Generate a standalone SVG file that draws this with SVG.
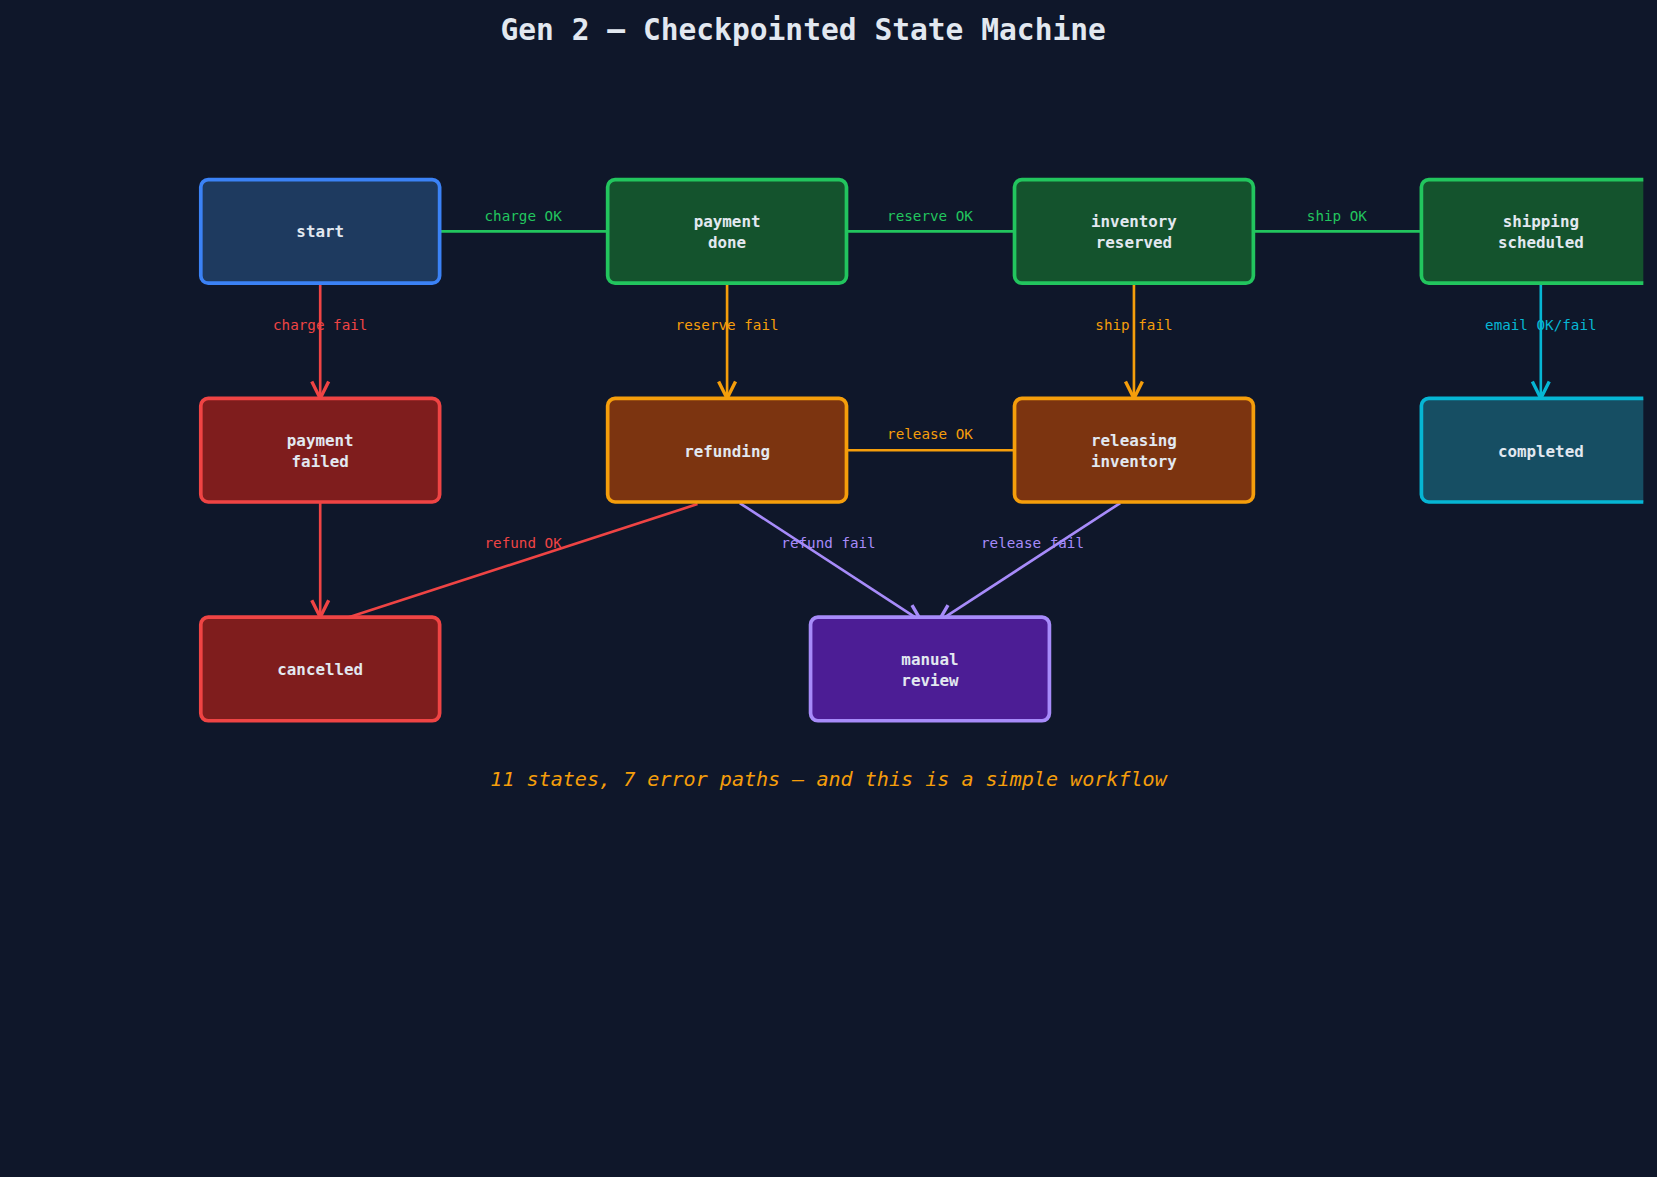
<svg xmlns="http://www.w3.org/2000/svg" width="1657" height="1177" viewBox="0 0 1657 1177">
<defs>
<clipPath id="c"><rect x="0" y="0" width="1555" height="1114"/></clipPath>
<marker id="ar" viewBox="0 0 10 10" refX="9" refY="5" markerWidth="8" markerHeight="8" orient="auto-start-reverse"><path d="M1,1 L9,5 L1,9" fill="none" stroke="context-stroke" stroke-width="1.6"/></marker>
</defs>
<style>
.n{stroke-width:3.5}
.t{font-family:"DejaVu Sans Mono",monospace;font-weight:bold;font-size:15px;fill:#e2e8f0;text-anchor:middle}
.l{font-family:"DejaVu Sans Mono",monospace;font-size:13.5px;text-anchor:middle}
.e{fill:none;stroke-width:2.5}
</style>
<rect width="1657" height="1177" fill="#0f172a"/>
<g transform="scale(1.0568)" clip-path="url(#c)">
<text x="760" y="38" font-family="DejaVu Sans Mono,monospace" font-weight="bold" font-size="28" fill="#e2e8f0" text-anchor="middle">Gen 2 — Checkpointed State Machine</text>
<g id="connectors">
<line class="e" stroke="#22c55e" x1="416" y1="219" x2="575" y2="219"/>
<line class="e" stroke="#22c55e" x1="801" y1="219" x2="960" y2="219"/>
<line class="e" stroke="#22c55e" x1="1186" y1="219" x2="1345" y2="219"/>
<line class="e" stroke="#ef4444" x1="303" y1="268" x2="303" y2="377" marker-end="url(#ar)"/>
<line class="e" stroke="#f59e0b" x1="688" y1="268" x2="688" y2="377" marker-end="url(#ar)"/>
<line class="e" stroke="#f59e0b" x1="1073" y1="268" x2="1073" y2="377" marker-end="url(#ar)"/>
<line class="e" stroke="#06b6d4" x1="1458" y1="268" x2="1458" y2="377" marker-end="url(#ar)"/>
<line class="e" stroke="#f59e0b" x1="801" y1="426" x2="960" y2="426"/>
<line class="e" stroke="#ef4444" x1="303" y1="476" x2="303" y2="584" marker-end="url(#ar)"/>
<line class="e" stroke="#ef4444" x1="660" y1="477" x2="330" y2="584"/>
<line class="e" stroke="#a78bfa" x1="700" y1="476" x2="872" y2="588" marker-end="url(#ar)"/>
<line class="e" stroke="#a78bfa" x1="1060" y1="476" x2="888" y2="588" marker-end="url(#ar)"/>
<text class="l" fill="#22c55e" x="495" y="209">charge OK</text>
<text class="l" fill="#22c55e" x="880" y="209">reserve OK</text>
<text class="l" fill="#22c55e" x="1265" y="209">ship OK</text>
<text class="l" fill="#ef4444" x="303" y="312">charge fail</text>
<text class="l" fill="#f59e0b" x="688" y="312">reserve fail</text>
<text class="l" fill="#f59e0b" x="1073" y="312">ship fail</text>
<text class="l" fill="#06b6d4" x="1458" y="312">email OK/fail</text>
<text class="l" fill="#f59e0b" x="880" y="415">release OK</text>
<text class="l" fill="#ef4444" x="495" y="519">refund OK</text>
<text class="l" fill="#a78bfa" x="784" y="519">refund fail</text>
<text class="l" fill="#a78bfa" x="977" y="519">release fail</text>
</g>
<g id="start"><rect class="n" x="190" y="170" width="226" height="98" rx="7" fill="#1e3a5f" stroke="#3b82f6"/><text class="t" x="303" y="224">start</text></g>
<g id="payment_done"><rect class="n" x="575" y="170" width="226" height="98" rx="7" fill="#14532d" stroke="#22c55e"/><text class="t" x="688" y="215">payment</text><text class="t" x="688" y="235">done</text></g>
<g id="inventory_reserved"><rect class="n" x="960" y="170" width="226" height="98" rx="7" fill="#14532d" stroke="#22c55e"/><text class="t" x="1073" y="215">inventory</text><text class="t" x="1073" y="235">reserved</text></g>
<g id="shipping_scheduled"><rect class="n" x="1345" y="170" width="226" height="98" rx="7" fill="#14532d" stroke="#22c55e"/><text class="t" x="1458" y="215">shipping</text><text class="t" x="1458" y="235">scheduled</text></g>
<g id="payment_failed"><rect class="n" x="190" y="377" width="226" height="98" rx="7" fill="#7f1d1d" stroke="#ef4444"/><text class="t" x="303" y="422">payment</text><text class="t" x="303" y="442">failed</text></g>
<g id="refunding"><rect class="n" x="575" y="377" width="226" height="98" rx="7" fill="#7c3410" stroke="#f59e0b"/><text class="t" x="688" y="432">refunding</text></g>
<g id="releasing_inventory"><rect class="n" x="960" y="377" width="226" height="98" rx="7" fill="#7c3410" stroke="#f59e0b"/><text class="t" x="1073" y="422">releasing</text><text class="t" x="1073" y="442">inventory</text></g>
<g id="completed"><rect class="n" x="1345" y="377" width="226" height="98" rx="7" fill="#164e63" stroke="#06b6d4"/><text class="t" x="1458" y="432">completed</text></g>
<g id="cancelled"><rect class="n" x="190" y="584" width="226" height="98" rx="7" fill="#7f1d1d" stroke="#ef4444"/><text class="t" x="303" y="639">cancelled</text></g>
<g id="manual_review"><rect class="n" x="767" y="584" width="226" height="98" rx="7" fill="#4c1d95" stroke="#a78bfa"/><text class="t" x="880" y="629">manual</text><text class="t" x="880" y="649">review</text></g>
<text x="784" y="744" font-family="DejaVu Sans Mono,monospace" font-style="italic" font-size="19" fill="#f59e0b" text-anchor="middle">11 states, 7 error paths — and this is a simple workflow</text>
</g>
</svg>
